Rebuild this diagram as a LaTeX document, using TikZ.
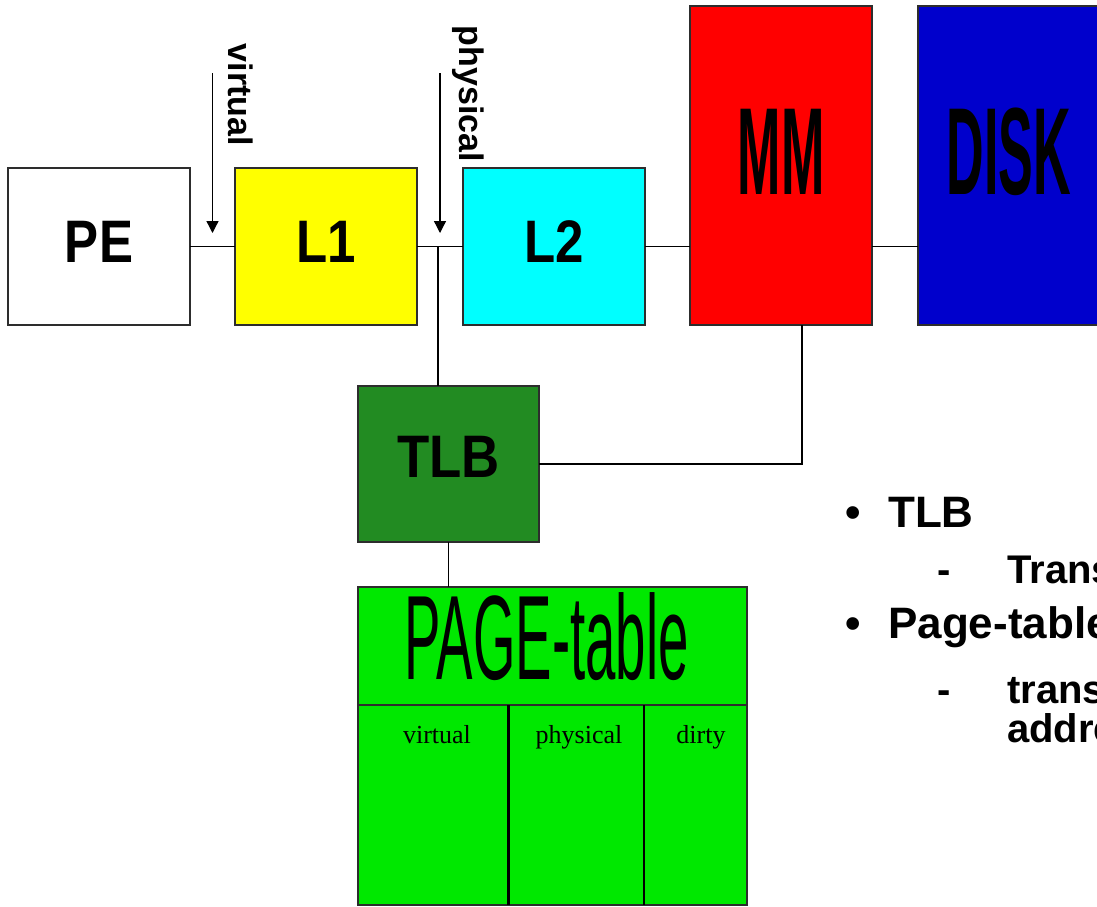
\documentclass[tikz,border=0pt]{standalone}
\usepackage{fontspec}
\usepackage{graphicx}
\setmainfont{Liberation Sans}
\newfontfamily\colfont{Liberation Serif}
\usetikzlibrary{arrows.meta,positioning,calc}
\definecolor{boxline}{RGB}{45,45,45}
\definecolor{peyellow}{RGB}{255,255,0}
\definecolor{lcyan}{RGB}{0,255,255}
\definecolor{mmred}{RGB}{255,0,0}
\definecolor{diskblue}{RGB}{0,0,204}
\definecolor{tlbgreen}{RGB}{34,139,34}
\definecolor{ptgreen}{RGB}{0,232,0}

% squeeze a label sideways
\newcommand{\narrow}[2]{\scalebox{#1}[1]{#2}}

\begin{document}
\begin{tikzpicture}[
  x=1pt,y=-1pt,
  node distance=45pt,
  box/.style={draw=boxline,line width=1.5pt,inner sep=0pt,outer sep=0pt,
              minimum width=182pt,minimum height=157pt,text depth=10pt,
              font=\fontsize{60}{60}\selectfont\bfseries},
  tall/.style={box,minimum height=319pt,text depth=28pt},
  wire/.style={line width=1.3pt},
  arr/.style={wire,-{Triangle[width=12pt,length=12pt]}},
  side/.style={rotate=-90,inner sep=0pt,font=\fontsize{34}{34}\selectfont\bfseries},
  col/.style={anchor=base,inner sep=0pt,font=\colfont\fontsize{26}{26}\selectfont},
  note/.style={anchor=base west,inner sep=0pt,font=\fontsize{44}{44}\selectfont\bfseries},
  subnote/.style={note,font=\fontsize{40}{40}\selectfont\bfseries}
]
\useasboundingbox (0,0) rectangle (1097,906);

% top row
\node[box,fill=white] (pe) at (99,246.5) {\narrow{0.85}{PE}};
\node[box,fill=peyellow,right=45pt of pe] (l1) {\narrow{0.85}{L1}};
\node[box,fill=lcyan,right=46pt of l1] (l2) {\narrow{0.85}{L2}};
\node[tall,fill=mmred,right=45pt of l2.south east,anchor=south west] (mm)
  {\fontsize{124}{124}\selectfont\narrow{0.42}{MM}};
\node[tall,fill=diskblue,right=46pt of mm.south east,anchor=south west] (disk)
  {\fontsize{124}{124}\selectfont\narrow{0.42}{DISK}};

% translation path
\node[box,fill=tlbgreen,minimum width=181pt,minimum height=156pt,text depth=14pt,
      below right=61pt and -59pt of l1.south east,anchor=north west] (tlb)
  {\narrow{0.88}{TLB}};
\node[draw=boxline,line width=1.5pt,fill=ptgreen,inner sep=0pt,outer sep=0pt,
      minimum width=389pt,minimum height=318pt,
      below=45pt of tlb.south west,anchor=north west] (pt) {};
\node[anchor=base,inner sep=0pt,font=\fontsize{120}{120}\selectfont] (pttitle)
  at ($(pt.north)+(-6,92)$) {\narrow{0.455}{PAGE-table}};

% table rules
\coordinate (rowl) at ($(pt.north west)+(0,118)$);
\coordinate (rowr) at ($(pt.north east)+(0,118)$);
\draw[line width=1.5pt,boxline] (rowl) -- (rowr);
\draw[line width=3pt] ($(rowl)+(150,0)$) -- ($(pt.south west)+(150,0)$);
\draw[line width=1.5pt] ($(rowl)+(286,0)$) -- ($(pt.south west)+(286,0)$);
\node[col] (cvirt) at (437,743) {virtual};
\node[col] (cphys) at (579,743) {physical};
\node[col] (cdirt) at (701,743) {dirty};

% bus
\draw[wire] (pe) -- (l1);
\draw[wire] (l1) -- (l2);
\draw[wire] (l2.east) -- (l2.east -| mm.west);
\draw[wire] (mm.east |- l2) -- (disk.west |- l2);

\coordinate (tap) at (438,246.5);
\draw[wire] (tap) -- (tap |- tlb.north);
\coordinate (mmtap) at ($(mm.south)+(21,0)$);
\draw[wire] (tlb.east) -| (mmtap);
\draw[wire] (tlb.south) -- (tlb.south |- pt.north);

% address arrows
\coordinate (vtip) at ($(pe.east)!0.5!(l1.west)+(0,-13.5)$);
\coordinate (ptip) at ($(l1.east)!0.5!(l2.west)+(0,-13.5)$);
\draw[arr] ($(vtip)+(0,-160)$) -- (vtip);
\draw[arr] ($(ptip)+(0,-160)$) -- (ptip);
\node[side] (vlab) at (241,95) {virtual};
\node[side] (plab) at (468,94) {physical};

% notes
\node[note] (b1) at (845,527) {•};
\node[note] (n1) at (888,527) {TLB};
\node[subnote] (d1) at (937,583) {-};
\node[subnote] (s1) at (1007,583) {Trans};
\node[note] (b2) at (845,638) {•};
\node[note] (n2) at (888,638) {Page-table};
\node[subnote] (d2) at (937,703) {-};
\node[subnote] (s2) at (1007,703) {trans};
\node[subnote] (s3) at (1007,742) {addre};
\end{tikzpicture}
\end{document}
